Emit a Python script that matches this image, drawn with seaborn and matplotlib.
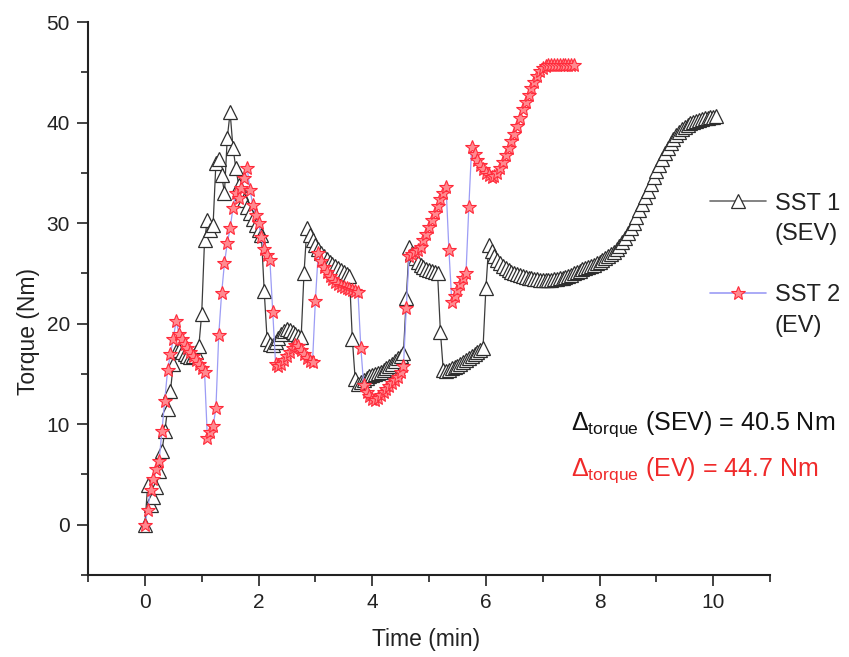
import numpy as np
import pandas as pd
import matplotlib
matplotlib.use("Agg")
import matplotlib.pyplot as plt
from matplotlib.lines import Line2D
from matplotlib.ticker import MultipleLocator
import seaborn as sns

# sampling step of the recorded torque curves (min)
DT = 0.05

# SST 1 (SEV) torque, Nm, one value every DT minutes from t = 0
sst1_torque = [
    0.0, 4.0, 2.0, 2.8, 3.8, 5.3, 7.3, 9.3, 11.5, 13.3,
    16.0, 17.3, 17.4, 17.2, 17.0, 16.8, 16.7, 16.8, 17.2, 17.8,
    21.0, 28.3, 30.3, 29.3, 29.8, 36.0, 36.4, 34.8, 33.0, 38.5,
    41.0, 37.5, 35.5, 33.8, 33.0, 32.3, 31.6, 31.0, 30.4, 29.8,
    29.3, 28.8, 23.2, 18.5, 18.0, 17.9, 18.2, 18.6, 19.0, 19.3,
    19.5, 19.4, 19.2, 19.0, 18.8, 18.7, 25.0, 29.5, 28.8, 28.3,
    27.8, 27.4, 27.0, 26.7, 26.4, 26.1, 25.9, 25.7, 25.5, 25.3,
    25.1, 24.9, 24.7, 18.5, 14.5, 14.0, 14.2, 14.4, 14.6, 14.8,
    14.9, 15.0, 15.1, 15.2, 15.4, 15.6, 15.8, 16.0, 16.3, 16.6,
    16.8, 17.1, 22.6, 27.6, 27.0, 26.5, 26.1, 25.8, 25.6, 25.4,
    25.3, 25.2, 25.1, 25.0, 19.2, 15.4, 15.3, 15.4, 15.6, 15.7,
    15.8, 16.0, 16.2, 16.4, 16.6, 16.8, 17.0, 17.2, 17.4, 17.6,
    23.5, 27.8, 27.2, 26.7, 26.3, 26.0, 25.7, 25.5, 25.3, 25.1,
    25.0, 24.9, 24.8, 24.7, 24.6, 24.5, 24.5, 24.4, 24.4, 24.3,
    24.3, 24.3, 24.3, 24.3, 24.4, 24.4, 24.5, 24.5, 24.6, 24.7,
    24.8, 25.0, 25.1, 25.2, 25.4, 25.5, 25.6, 25.7, 25.8, 26.0,
    26.1, 26.3, 26.5, 26.7, 26.9, 27.1, 27.4, 27.7, 28.1, 28.5,
    29.0, 29.5, 30.0, 30.6, 31.3, 31.9, 32.6, 33.2, 33.9, 34.6,
    35.2, 35.8, 36.4, 37.0, 37.5, 38.0, 38.4, 38.8, 39.1, 39.4,
    39.6, 39.8, 40.0, 40.1, 40.2, 40.3, 40.4, 40.5, 40.5, 40.6,
    40.6, 40.7,
]

# SST 2 (EV) torque, Nm, one value every DT minutes from t = 0
sst2_torque = [
    0.0, 1.5, 3.5, 4.5, 5.5, 6.3, 9.3, 12.3, 15.4, 17.0,
    18.5, 20.3, 19.0, 18.5, 18.0, 17.6, 17.2, 16.8, 16.4, 16.0,
    15.6, 15.2, 8.6, 9.2, 9.8, 11.6, 18.9, 23.0, 26.0, 28.0,
    29.5, 31.5, 33.0, 32.5, 33.5, 34.5, 35.5, 33.3, 31.8, 30.8,
    30.0, 28.6, 27.4, 26.8, 26.3, 21.2, 16.0, 15.8, 16.0, 16.4,
    16.8, 17.2, 17.6, 17.9, 17.8, 17.4, 17.0, 16.6, 16.3, 16.2,
    22.3, 27.0, 26.2, 25.6, 25.1, 24.7, 24.4, 24.1, 23.9, 23.7,
    23.6, 23.5, 23.4, 23.3, 23.2, 23.1, 17.6, 13.9, 13.2, 12.8,
    12.5, 12.4, 12.6, 12.9, 13.2, 13.5, 13.8, 14.1, 14.4, 14.7,
    15.2, 15.8, 21.6, 26.7, 26.9, 27.1, 27.3, 27.6, 28.3, 28.9,
    29.6, 30.3, 31.0, 31.7, 32.4, 33.0, 33.6, 27.3, 22.2, 22.7,
    23.3, 23.9, 24.5, 25.0, 31.6, 37.6, 36.9, 36.3, 35.8, 35.4,
    35.0, 34.8, 34.6, 34.7, 35.0, 35.5, 36.1, 36.8, 37.5, 38.2,
    38.9, 39.7, 40.5, 41.3, 42.0, 42.7, 43.4, 44.0, 44.6, 45.1,
    45.4, 45.6, 45.7, 45.7, 45.7, 45.7, 45.7, 45.7, 45.7, 45.7,
    45.7, 45.7,
]

series_labels = ["SST 1", "SST 2"]
series_sub = ["(SEV)", "(EV)"]
x_label = "Time (min)"
y_label = "Torque (Nm)"
note_sev = r"$\Delta_{\mathrm{torque}}$ (SEV) = 40.5 Nm"
note_ev = r"$\Delta_{\mathrm{torque}}$ (EV) = 44.7 Nm"

t1 = np.round(np.arange(len(sst1_torque)) * DT, 3)
t2 = np.round(np.arange(len(sst2_torque)) * DT, 3)
df1 = pd.DataFrame({"Time": t1, "Torque": sst1_torque})
df2 = pd.DataFrame({"Time": t2, "Torque": sst2_torque})

sns.set_style("ticks")
plt.rcParams["font.family"] = ["Liberation Sans", "DejaVu Sans"]
plt.rcParams["mathtext.fontset"] = "custom"
plt.rcParams["mathtext.rm"] = "Liberation Sans"
plt.rcParams["mathtext.it"] = "Liberation Sans:italic"
plt.rcParams["mathtext.bf"] = "Liberation Sans:bold"

fig = plt.figure(figsize=(8.49, 6.57), dpi=100)
ax = fig.add_axes([0.1037, 0.1248, 0.8033, 0.8417])

black_line = "#3c3c3c"
black_edge = "#2e2e2e"
blue_line = "#9c9cf5"
red_edge = "#ff2a3a"
red_face = "#ff8a90"

style1 = dict(color=black_line, linewidth=0.9, marker="^", markersize=10,
              markerfacecolor="white", markeredgecolor=black_edge, markeredgewidth=0.9)
style2 = dict(color=blue_line, linewidth=0.9, marker="*", markersize=10.5,
              markerfacecolor=red_face, markeredgecolor=red_edge, markeredgewidth=0.8)

sns.lineplot(data=df1, x="Time", y="Torque", ax=ax, estimator=None, sort=False, **style1)
sns.lineplot(data=df2, x="Time", y="Torque", ax=ax, estimator=None, sort=False, **style2)

ax.set_xlim(-1, 11)
ax.set_ylim(-5, 50)
ax.xaxis.set_major_locator(MultipleLocator(2))
ax.xaxis.set_minor_locator(MultipleLocator(1))
ax.yaxis.set_major_locator(MultipleLocator(10))
ax.yaxis.set_minor_locator(MultipleLocator(5))
ax.tick_params(which="major", direction="out", length=8, width=1.2,
               labelsize=15, pad=5, color="#222222", labelcolor="#222222")
ax.tick_params(which="minor", direction="out", length=5, width=1.2, color="#222222")
sns.despine(ax=ax)
for s in ("left", "bottom"):
    ax.spines[s].set_linewidth(1.5)
    ax.spines[s].set_color("#222222")

ax.set_xlabel(x_label, fontsize=16.5, color="#222222")
ax.set_ylabel(y_label, fontsize=16.5, color="#222222")
ax.xaxis.set_label_coords(0.495, -0.095)
ax.yaxis.set_label_coords(-0.071, 0.441)

# legend
h1 = Line2D([], [], color="#6e6e6e", linewidth=1.2, marker="^", markersize=10,
            markerfacecolor="white", markeredgecolor=black_edge, markeredgewidth=0.9)
h2 = Line2D([], [], color=blue_line, linewidth=1.2, marker="*", markersize=10.5,
            markerfacecolor=red_face, markeredgecolor=red_edge, markeredgewidth=0.8)
blank = Line2D([], [], linestyle="none", marker="none")
ax.legend([h1, blank, blank, h2, blank],
          [series_labels[0], series_sub[0], " ", series_labels[1], series_sub[1]],
          loc="upper left", bbox_to_anchor=(0.836, 0.707), bbox_transform=fig.transFigure,
          frameon=False, fontsize=17, handlelength=2.4, handletextpad=0.35,
          labelspacing=0.36, borderpad=0, borderaxespad=0, labelcolor="#222222")

ax.text(7.5, 9.4, note_sev, fontsize=18, color="#111111", va="baseline", ha="left")
ax.text(7.5, 4.85, note_ev, fontsize=18, color="#f02a2a", va="baseline", ha="left")

fig.savefig("out.png", dpi=100)
